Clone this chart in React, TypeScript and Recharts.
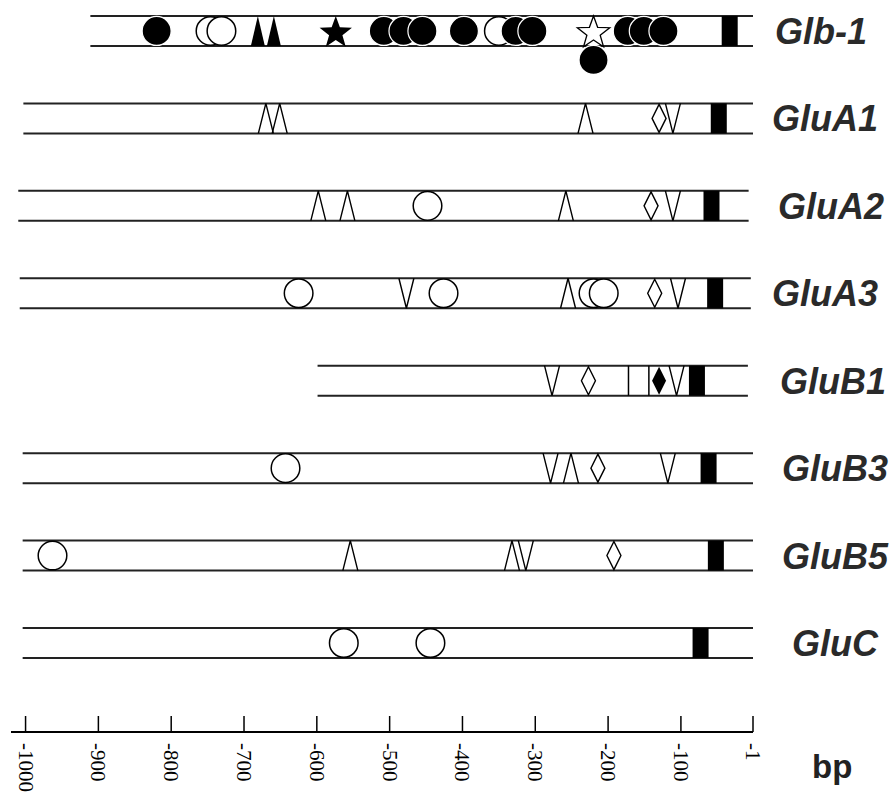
import React from 'react';
import { ComposedChart, XAxis, YAxis, Scatter, ReferenceLine } from 'recharts';

// promoter regions, rows top to bottom
const GENES = ['Glb-1', 'GluA1', 'GluA2', 'GluA3', 'GluB1', 'GluB3', 'GluB5', 'GluC'];
const ROW_START = [-911, -1003, -1010, -1008, -599, -1004, -1004, -1004];
const ROW_END = [-1, -1, -7, -4, -8, -1, -1, -1];
const AXIS_TICKS = [-1000, -900, -800, -700, -600, -500, -400, -300, -200, -100, -1];

// cis-element positions (bp upstream), [gene, position]
const FILLED_CIRCLES: [string, number][] = [
  ['Glb-1', -820], ['Glb-1', -508], ['Glb-1', -481], ['Glb-1', -455], ['Glb-1', -398],
  ['Glb-1', -327], ['Glb-1', -304], ['Glb-1', -173], ['Glb-1', -151], ['Glb-1', -124],
];
const FILLED_CIRCLES_BELOW: [string, number][] = [['Glb-1', -220]];
const OPEN_CIRCLES: [string, number][] = [
  ['Glb-1', -746], ['Glb-1', -731], ['Glb-1', -350], ['GluA2', -448],
  ['GluA3', -625], ['GluA3', -426], ['GluA3', -220], ['GluA3', -206],
  ['GluB3', -643], ['GluB5', -963], ['GluC', -563], ['GluC', -444],
];
const FILLED_TRIANGLES: [string, number][] = [['Glb-1', -681], ['Glb-1', -659]];
const FILLED_STARS: [string, number][] = [['Glb-1', -574]];
const OPEN_STARS: [string, number][] = [['Glb-1', -220]];
const UP_TRIANGLES: [string, number][] = [
  ['GluA1', -670], ['GluA1', -651], ['GluA1', -231], ['GluA2', -598], ['GluA2', -558],
  ['GluA2', -258], ['GluA3', -255], ['GluB3', -251], ['GluB5', -554], ['GluB5', -332],
];
const DOWN_TRIANGLES: [string, number][] = [
  ['GluA1', -111], ['GluA2', -111], ['GluA3', -477], ['GluA3', -104], ['GluB1', -277],
  ['GluB1', -106], ['GluB3', -279], ['GluB3', -118], ['GluB5', -313],
];
const OPEN_DIAMONDS: [string, number][] = [
  ['GluA1', -130], ['GluA2', -141], ['GluA3', -136], ['GluB1', -227], ['GluB3', -214], ['GluB5', -192],
];
const FILLED_DIAMONDS: [string, number][] = [['GluB1', -130]];
const VERTICAL_BARS: [string, number][] = [['GluB1', -172], ['GluB1', -144]];
const BOXES: [string, number][] = [
  ['Glb-1', -33], ['GluA1', -48], ['GluA2', -58], ['GluA3', -53],
  ['GluB1', -78], ['GluB3', -62], ['GluB5', -52], ['GluC', -73],
];

// label offsets to the right of the plot, px
const LABEL_DX = [22, 19, 25, 19, 27, 29, 29, 39];

const HALF = 15 / 87.43; // half the row height in y units
const toPoints = (list: [string, number][], dy = 0) =>
  list.map(([g, pos]) => ({ x: pos, y: -GENES.indexOf(g) + dy }));

const FilledCircle = ({ cx, cy }: any) => (
  <circle cx={cx} cy={cy} r={14.5} fill="#000" stroke="#fff" strokeWidth={1.2} />
);
const OpenCircle = ({ cx, cy }: any) => (
  <circle cx={cx} cy={cy} r={14.3} fill="#fff" stroke="#000" strokeWidth={1.5} />
);
const UpTriangle = ({ cx, cy }: any) => (
  <path d={`M${cx - 7.5},${cy + 15} L${cx},${cy - 15} L${cx + 7.5},${cy + 15}`} fill="none" stroke="#000" strokeWidth={1.4} />
);
const DownTriangle = ({ cx, cy }: any) => (
  <path d={`M${cx - 7.5},${cy - 15} L${cx},${cy + 15} L${cx + 7.5},${cy - 15}`} fill="none" stroke="#000" strokeWidth={1.4} />
);
const FilledTriangle = ({ cx, cy }: any) => (
  <path d={`M${cx - 7},${cy + 15} L${cx},${cy - 15} L${cx + 7},${cy + 15} Z`} fill="#000" />
);
const diamondPath = (cx: number, cy: number) =>
  `M${cx},${cy - 14} L${cx + 7},${cy} L${cx},${cy + 14} L${cx - 7},${cy} Z`;
const OpenDiamond = ({ cx, cy }: any) => (
  <path d={diamondPath(cx, cy)} fill="none" stroke="#000" strokeWidth={1.4} />
);
const FilledDiamond = ({ cx, cy }: any) => <path d={diamondPath(cx, cy)} fill="#000" />;
const starPath = (cx: number, cy: number) => {
  const pts: string[] = [];
  for (let i = 0; i < 10; i++) {
    const r = i % 2 === 0 ? 17 : 7;
    const a = -Math.PI / 2 + (i * Math.PI) / 5;
    pts.push(`${cx + r * Math.cos(a)},${cy + 2 + r * Math.sin(a)}`);
  }
  return `M${pts.join(' L')} Z`;
};
const FilledStar = ({ cx, cy }: any) => <path d={starPath(cx, cy)} fill="#000" />;
const OpenStar = ({ cx, cy }: any) => <path d={starPath(cx, cy)} fill="#fff" stroke="#000" strokeWidth={1.3} />;
const Box = ({ cx, cy }: any) => <rect x={cx - 8} y={cy - 15} width={16} height={30} fill="#000" />;
const VBar = ({ cx, cy }: any) => <line x1={cx} y1={cy - 15} x2={cx} y2={cy + 15} stroke="#000" strokeWidth={1.5} />;

const AxisTick = ({ x, y, payload }: any) => (
  <g>
    <line x1={x} y1={y - 16} x2={x} y2={y} stroke="#000" strokeWidth={1.5} />
    <text
      x={x}
      y={y + 11}
      transform={`rotate(90, ${x}, ${y + 11})`}
      textAnchor="start"
      dominantBaseline="central"
      fontFamily="'Liberation Serif', 'Times New Roman', serif"
      fontSize={21}
      fill="#000"
    >
      {payload.value}
    </text>
  </g>
);

const GeneTick = ({ x, y, payload }: any) => {
  const i = -payload.value;
  return (
    <text
      x={x + LABEL_DX[i]}
      y={y + 13}
      fontFamily="'Liberation Sans', Arial, sans-serif"
      fontWeight="bold"
      fontStyle="italic"
      fontSize={36}
      fill="#2a2a2a"
    >
      {GENES[i]}
    </text>
  );
};

const BpLabel = ({ viewBox }: any) => (
  <text
    x={viewBox.x + viewBox.width + 59}
    y={viewBox.y + 46}
    fontFamily="'Liberation Sans', Arial, sans-serif"
    fontWeight="bold"
    fontSize={33}
    fill="#222"
  >
    bp
  </text>
);

export default function App() {
  return (
    <div style={{ position: 'absolute', left: 0, top: 0, background: '#fff' }}>
      <ComposedChart width={896} height={798} margin={{ top: 5, right: 0, bottom: 0, left: 11 }}>
        <XAxis
          type="number"
          dataKey="x"
          domain={[-1020, -1]}
          allowDataOverflow
          ticks={AXIS_TICKS}
          interval={0}
          tick={<AxisTick />}
          tickLine={false}
          tickSize={0}
          tickMargin={0}
          axisLine={{ stroke: '#000', strokeWidth: 2 }}
          height={66}
          label={<BpLabel />}
        />
        <YAxis
          type="number"
          dataKey="y"
          orientation="right"
          domain={[-8.018, 0.297]}
          allowDataOverflow
          ticks={[0, -1, -2, -3, -4, -5, -6, -7]}
          interval={0}
          tick={<GeneTick />}
          tickLine={false}
          tickSize={0}
          tickMargin={0}
          axisLine={false}
          width={143}
        />
        {GENES.map((g, i) => (
          <ReferenceLine
            key={`t-${g}`}
            segment={[{ x: ROW_START[i], y: -i + HALF }, { x: ROW_END[i], y: -i + HALF }]}
            stroke="#222"
            strokeWidth={2}
          />
        ))}
        {GENES.map((g, i) => (
          <ReferenceLine
            key={`b-${g}`}
            segment={[{ x: ROW_START[i], y: -i - HALF }, { x: ROW_END[i], y: -i - HALF }]}
            stroke="#222"
            strokeWidth={2}
          />
        ))}
        <Scatter data={toPoints(OPEN_CIRCLES)} shape={<OpenCircle />} isAnimationActive={false} />
        <Scatter data={toPoints(FILLED_CIRCLES)} shape={<FilledCircle />} isAnimationActive={false} />
        <Scatter data={toPoints(FILLED_CIRCLES_BELOW, -29 / 87.43)} shape={<FilledCircle />} isAnimationActive={false} />
        <Scatter data={toPoints(FILLED_TRIANGLES)} shape={<FilledTriangle />} isAnimationActive={false} />
        <Scatter data={toPoints(FILLED_STARS)} shape={<FilledStar />} isAnimationActive={false} />
        <Scatter data={toPoints(OPEN_STARS)} shape={<OpenStar />} isAnimationActive={false} />
        <Scatter data={toPoints(UP_TRIANGLES)} shape={<UpTriangle />} isAnimationActive={false} />
        <Scatter data={toPoints(DOWN_TRIANGLES)} shape={<DownTriangle />} isAnimationActive={false} />
        <Scatter data={toPoints(OPEN_DIAMONDS)} shape={<OpenDiamond />} isAnimationActive={false} />
        <Scatter data={toPoints(FILLED_DIAMONDS)} shape={<FilledDiamond />} isAnimationActive={false} />
        <Scatter data={toPoints(VERTICAL_BARS)} shape={<VBar />} isAnimationActive={false} />
        <Scatter data={toPoints(BOXES)} shape={<Box />} isAnimationActive={false} />
      </ComposedChart>
    </div>
  );
}
